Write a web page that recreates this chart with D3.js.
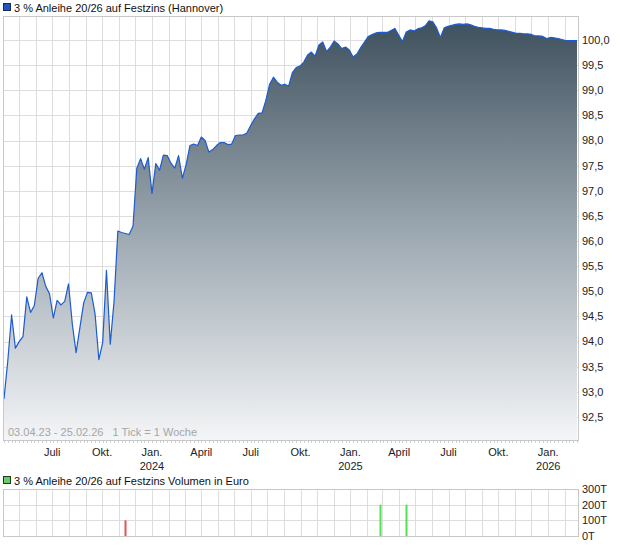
<!DOCTYPE html>
<html>
<head>
<meta charset="utf-8">
<script src="https://cdn.jsdelivr.net/npm/d3@7"></script>
<style>
  html, body { margin: 0; padding: 0; background: #fff; }
  svg { display: block; font-family: "Liberation Sans", Arial, sans-serif; }
</style>
</head>
<body>
<svg id="chart" width="620" height="546"></svg>
<script>
// ---------- DATA ----------
const seriesTitle = "3 % Anleihe 20/26 auf Festzins (Hannover)";
const volumeTitle = "3 % Anleihe 20/26 auf Festzins Volumen in Euro";
const rangeNote = "03.04.23 - 25.02.26   1 Tick = 1 Woche";
const startDate = "2023-04-03";   // first weekly point (Monday)
const endDate = "2026-02-23";     // last weekly point
// weekly prices, one per week from startDate
const prices = [
  92.86, 93.62, 94.53, 93.87, 94.00, 94.10, 94.89, 94.58, 94.72, 95.26,
  95.37, 95.10, 94.95, 94.47, 94.82, 94.73, 94.80, 95.15, 94.35, 93.78,
  94.28, 94.77, 94.98, 94.97, 94.55, 93.64, 93.98, 95.42, 93.95, 94.80,
  96.20, 96.17, 96.15, 96.13, 96.30, 97.45, 97.64, 97.43, 97.66, 96.95,
  97.54, 97.41, 97.71, 97.70, 97.55, 97.45, 97.70, 97.25, 97.52, 97.90,
  97.93, 97.90, 98.07, 98.00, 97.77, 97.82, 97.90, 97.96, 97.96, 97.92,
  97.93, 98.10, 98.11, 98.11, 98.15, 98.30, 98.43, 98.54, 98.55, 98.80,
  99.12, 99.26, 99.16, 99.10, 99.12, 99.08, 99.35, 99.45, 99.48, 99.56,
  99.70, 99.76, 99.68, 99.90, 99.96, 99.77, 99.86, 99.98, 99.92, 99.83,
  99.86, 99.80, 99.66, 99.72, 99.85, 99.96, 100.07, 100.11, 100.14, 100.15,
  100.15, 100.15, 100.19, 100.23, 100.10, 99.97, 100.16, 100.20, 100.18, 100.22,
  100.24, 100.28, 100.38, 100.36, 100.24, 100.05, 100.24, 100.27, 100.29, 100.31,
  100.32, 100.31, 100.32, 100.30, 100.27, 100.25, 100.24, 100.23, 100.23, 100.21,
  100.20, 100.20, 100.19, 100.17, 100.15, 100.13, 100.13, 100.12, 100.12, 100.11,
  100.08, 100.08, 100.07, 100.03, 100.05, 100.04, 100.03, 100.01, 99.99, 99.99,
  99.99, 99.99
];
// weeks with turnover (Euro) and whether the bar is drawn as "up" (green) or "down" (red)
const volumeWeeks = ["2023-11-13", "2025-02-24", "2025-04-14"];
const volumeValues = [100000, 200000, 200000];
const volumeUp = [false, true, true];
const priceTicks = [92.5, 93.0, 93.5, 94.0, 94.5, 95.0, 95.5, 96.0, 96.5, 97.0, 97.5, 98.0, 98.5, 99.0, 99.5, 100.0];
const volumeTicks = [0, 100000, 200000, 300000];
const monthNames = ["Jan.", "Feb.", "März", "April", "Mai", "Juni", "Juli", "Aug.", "Sep.", "Okt.", "Nov.", "Dez."];
const labelMonths = [0, 3, 6, 9]; // Jan., April, Juli, Okt.

// ---------- SETUP ----------
const svg = d3.select("#chart");
const parse = d3.utcParse("%Y-%m-%d");
const t0 = parse(startDate), t1 = parse(endDate);
const data = prices.map((p, i) => ({ date: d3.utcDay.offset(t0, 7 * i), price: p }));
const de = d3.formatLocale({ decimal: ",", thousands: ".", grouping: [3], currency: ["", " €"] });
const fmtPrice = de.format(".1f");

const plot = { left: 3, right: 578, top: 16, bottom: 440 };
const vol = { top: 489, bottom: 536 };

const x = d3.scaleUtc().domain([t0, t1]).range([4, 577]);
const y = d3.scaleLinear().domain([92.043, 100.477]).range([plot.bottom, plot.top]);
const yv = d3.scaleLinear().domain([0, 300000]).range([vol.bottom, vol.top]);

const gridColor = "#dedede";
const borderColor = "#c8c8c8";
const months = d3.utcMonth.range(d3.utcMonth.ceil(t0), t1);

// gradient
const defs = svg.append("defs");
const grad = defs.append("linearGradient").attr("id", "areaGrad")
  .attr("gradientUnits", "userSpaceOnUse")
  .attr("x1", 0).attr("x2", 0).attr("y1", 20).attr("y2", plot.bottom);
grad.append("stop").attr("offset", "0%").attr("stop-color", "#3e505d");
grad.append("stop").attr("offset", "50%").attr("stop-color", "#9ba7b0");
grad.append("stop").attr("offset", "100%").attr("stop-color", "#f4f5f7");
defs.append("clipPath").attr("id", "plotClip").append("rect")
  .attr("x", plot.left).attr("y", plot.top)
  .attr("width", plot.right - plot.left).attr("height", plot.bottom - plot.top);

// ---------- LEGEND 1 ----------
svg.append("rect").attr("x", 3.5).attr("y", 3.5).attr("width", 7).attr("height", 7)
  .attr("fill", "#1f55c4").attr("stroke", "#1a2a55");
svg.append("text").attr("x", 14).attr("y", 12).attr("font-size", 11).attr("fill", "#111").text(seriesTitle);

// ---------- MAIN GRID ----------
const g = svg.append("g");
g.selectAll(".hg").data(priceTicks).join("line")
  .attr("x1", plot.left).attr("x2", plot.right)
  .attr("y1", d => Math.round(y(d)) + 0.5).attr("y2", d => Math.round(y(d)) + 0.5)
  .attr("stroke", gridColor);
g.selectAll(".vg").data(months).join("line")
  .attr("x1", d => Math.round(x(d)) + 0.5).attr("x2", d => Math.round(x(d)) + 0.5)
  .attr("y1", plot.top).attr("y2", plot.bottom)
  .attr("stroke", gridColor);

// ---------- AREA + LINE ----------
const area = d3.area().x(d => x(d.date)).y0(plot.bottom).y1(d => y(d.price));
const line = d3.line().x(d => x(d.date)).y(d => y(d.price));
const pg = svg.append("g").attr("clip-path", "url(#plotClip)");
pg.append("path").datum(data).attr("d", area).attr("fill", "url(#areaGrad)");
pg.append("path").datum(data).attr("d", line).attr("fill", "none")
  .attr("stroke", "#1d5bd0").attr("stroke-width", 1.2).attr("stroke-linejoin", "round");

// border
svg.append("rect").attr("x", plot.left + 0.5).attr("y", plot.top + 0.5)
  .attr("width", plot.right - plot.left).attr("height", plot.bottom - plot.top)
  .attr("fill", "none").attr("stroke", borderColor);

// range note
svg.append("text").attr("x", 8).attr("y", 436).attr("font-size", 11).attr("fill", "#a6a6a6").attr("xml:space", "preserve").text(rangeNote);

// weekly tick marks
svg.append("g").selectAll("line").data(data).join("line")
  .attr("x1", d => Math.round(x(d.date)) + 0.5).attr("x2", d => Math.round(x(d.date)) + 0.5)
  .attr("y1", plot.bottom + 1).attr("y2", plot.bottom + 3)
  .attr("stroke", "#d0d0d0");

// y labels
svg.append("g").selectAll("text").data(priceTicks).join("text")
  .attr("x", 582).attr("y", d => y(d)).attr("dy", "0.35em")
  .attr("font-size", 11).attr("fill", "#222").text(d => fmtPrice(d));

// x labels
const labelDates = months.filter(d => labelMonths.includes(d.getUTCMonth()));
const xl = svg.append("g").selectAll("text").data(labelDates).join("text")
  .attr("x", d => x(d)).attr("y", 456).attr("text-anchor", "middle")
  .attr("font-size", 11).attr("fill", "#222");
xl.append("tspan").text(d => monthNames[d.getUTCMonth()]);
xl.filter(d => d.getUTCMonth() === 0).append("tspan")
  .attr("x", d => x(d)).attr("dy", 13.5).text(d => d.getUTCFullYear());

// ---------- VOLUME PANEL ----------
svg.append("rect").attr("x", 3.5).attr("y", 476.5).attr("width", 7).attr("height", 7)
  .attr("fill", "#66cc66").attr("stroke", "#1f3a1f");
svg.append("text").attr("x", 14).attr("y", 485).attr("font-size", 11).attr("fill", "#111").text(volumeTitle);

const vg = svg.append("g");
vg.selectAll(".hg").data(volumeTicks).join("line")
  .attr("x1", plot.left).attr("x2", plot.right)
  .attr("y1", d => Math.round(yv(d)) + 0.5).attr("y2", d => Math.round(yv(d)) + 0.5)
  .attr("stroke", gridColor);
vg.selectAll(".vg").data(months).join("line")
  .attr("x1", d => Math.round(x(d)) + 0.5).attr("x2", d => Math.round(x(d)) + 0.5)
  .attr("y1", vol.top).attr("y2", vol.bottom)
  .attr("stroke", gridColor);

const volData = volumeWeeks.map((w, i) => ({ date: parse(w), value: volumeValues[i], up: volumeUp[i] }));
vg.selectAll(".bar").data(volData).join("rect")
  .attr("x", d => Math.round(x(d.date)) - 0.5).attr("width", 2)
  .attr("y", d => yv(d.value)).attr("height", d => yv(0) - yv(d.value))
  .attr("fill", d => d.up ? "#55dd55" : "#e05555");

svg.append("rect").attr("x", plot.left + 0.5).attr("y", vol.top + 0.5)
  .attr("width", plot.right - plot.left).attr("height", vol.bottom - vol.top)
  .attr("fill", "none").attr("stroke", borderColor);

svg.append("g").selectAll("text").data(volumeTicks).join("text")
  .attr("x", 582).attr("y", d => yv(d)).attr("dy", "0.35em")
  .attr("font-size", 11).attr("fill", "#222").text(d => (d / 1000) + "T");
</script>
</body>
</html>
